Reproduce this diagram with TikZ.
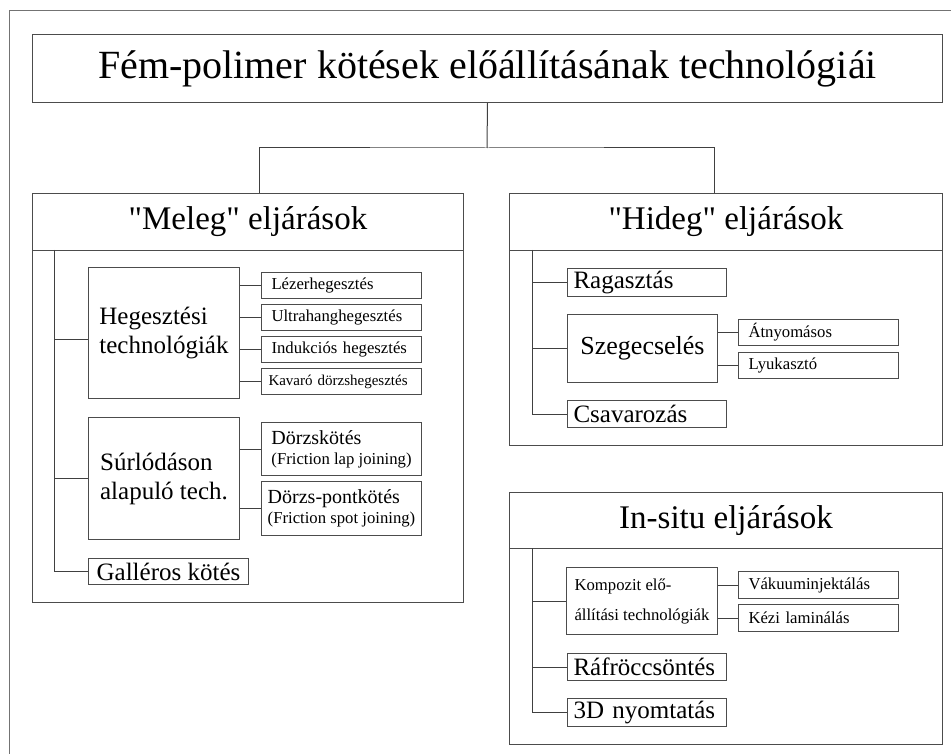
\documentclass[tikz,border=0pt]{standalone}
\usepackage{fontspec}
\setmainfont{Liberation Serif}[Ligatures=TeXOff]
\usetikzlibrary{positioning}

\tikzset{
	box/.style={draw=black!70, line width=1pt, inner sep=0pt, anchor=north west, align=center},
	group/.style={box, minimum width=433pt},
	head/.style={box, minimum width=433pt, minimum height=57pt, font=\fontsize{33}{38}\selectfont},
	mid/.style={font=\fontsize{25}{29}\selectfont},
	sub/.style={box, minimum width=160pt, minimum height=26pt, text width=140pt, align=left, font=\fontsize{16.7}{19}\selectfont},
	leaf/.style={box, mid, minimum width=159pt, minimum height=27pt, text width=147pt, align=left},
	link/.style={draw=black!75, line width=1pt},
	frame/.style={draw=black!55, line width=1pt}
}

\begin{document}
\begin{tikzpicture}[x=1pt, y=-1pt]
	\useasboundingbox (0,0) rectangle (951,754);
	\draw[frame] (951,11) -- (9,11) -- (9,754);

	\node (fem) [box, minimum width=910pt, minimum height=68pt, font=\fontsize{40}{46}\selectfont] at (32,34) {Fém-polimer kötések előállításának technológiái};
	\coordinate (fork) at (487,148);

	% three groups
	\node (meleg) [group, minimum width=431pt, minimum height=409pt] at (32,193) {};
	\node (melegh) [head, minimum width=431pt] at (32,193) {"Meleg" eljárások};
	\node (hideg) [group, minimum height=252pt] at (509,193) {};
	\node (hidegh) [head] at (509,193) {"Hideg" eljárások};
	\node (insitu) [group, minimum height=252pt] at (509,492) {};
	\node (insituh) [head, minimum height=56pt] at (509,492) {In-situ eljárások};

	\draw[link] (fem.south) -- (fork);
	\draw[link] ([xshift=11.5pt]meleg.north) |- (fork) -| ([xshift=-11.5pt]hideg.north);

	% meleg
	\coordinate (mtrunk) at (54,250);
	\node (heg) [box, mid, align=left, minimum width=151pt, minimum height=131pt] at (88,267) {Hegesztési\\technológiák};
	\node (lezer) [sub] at (261,272) {Lézerhegesztés};
	\node (ultra) [sub, below=5pt of lezer] {Ultrahanghegesztés};
	\node (induk) [sub, below=5pt of ultra] {Indukciós hegesztés};
	\node (kavaro) [sub, below=5pt of induk, text width=146pt, font=\fontsize{15}{18}\selectfont] {Kavaró dörzshegesztés};
	\node (surl) [box, mid, align=left, minimum width=151pt, minimum height=122pt] at (88,417) {Súrlódáson\\alapuló tech.};
	\node (dorzs) [box, align=left, minimum width=160pt, minimum height=53pt, font=\fontsize{16.7}{19}\selectfont] at (261,422) {{\fontsize{20}{23}\selectfont Dörzskötés}\\[1pt](Friction lap joining)};
	\node (pont) [box, align=left, minimum width=160pt, minimum height=54pt, font=\fontsize{16.7}{19}\selectfont] at (261,481) {{\fontsize{20}{23}\selectfont Dörzs-pontkötés}\\[1pt](Friction spot joining)};
	\node (gall) [box, mid, minimum width=160pt, minimum height=26pt] at (88,558) {Galléros kötés};

	\draw[link] (mtrunk) |- ([yshift=-6pt]heg.west) (mtrunk) |- (surl.west) (mtrunk) |- (gall.west);
	\draw[link] (lezer.west) -- (lezer.west -| heg.east)
		(ultra.west) -- (ultra.west -| heg.east)
		(induk.west) -- (induk.west -| heg.east)
		(kavaro.west) -- (kavaro.west -| heg.east)
		(dorzs.west) -- (dorzs.west -| surl.east)
		(pont.west) -- (pont.west -| surl.east);

	% hideg
	\coordinate (htrunk) at (532,250);
	\node (ragaszt) [leaf, minimum height=28pt] at (567,268) {Ragasztás};
	\node (szeg) [box, minimum width=150pt, minimum height=68pt, font=\fontsize{26}{30}\selectfont] at (567,314) {Szegecselés};
	\node (atny) [sub] at (738,319) {Átnyomásos};
	\node (lyuk) [sub, below=6pt of atny] {Lyukasztó};
	\node (csavar) [leaf] at (567,400) {Csavarozás};

	\draw[link] (htrunk) |- (ragaszt.west) (htrunk) |- (szeg.west) (htrunk) |- (csavar.west);
	\draw[link] (atny.west) -- (atny.west -| szeg.east)
		(lyuk.west) -- (lyuk.west -| szeg.east);

	% in-situ
	\coordinate (itrunk) at (532,548);
	\node (kompozit) [box, minimum width=151pt, minimum height=67pt, align=left, font=\fontsize{16.7}{19}\selectfont] at (566,567) {Kompozit elő-\\[11pt]állítási technológiák};
	\node (vakuum) [sub, minimum height=27pt] at (738,571) {Vákuuminjektálás};
	\node (kezi) [sub, minimum height=27pt, below=5pt of vakuum] {Kézi laminálás};
	\node (raf) [leaf] at (567,653) {Ráfröccsöntés};
	\node (nyomt) [leaf, minimum height=28pt] at (567,698) {3D nyomtatás};

	\draw[link] (itrunk) |- (kompozit.west) (itrunk) |- (raf.west) (itrunk) |- (nyomt.west);
	\draw[link] (vakuum.west) -- (vakuum.west -| kompozit.east)
		(kezi.west) -- (kezi.west -| kompozit.east);
\end{tikzpicture}
\end{document}
